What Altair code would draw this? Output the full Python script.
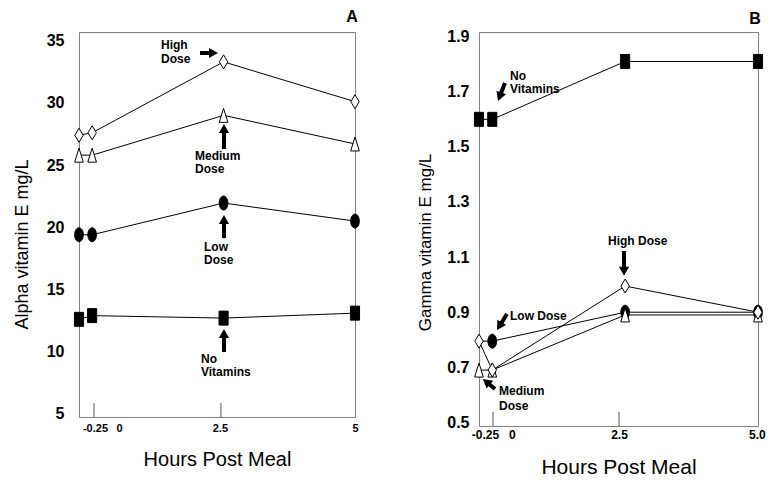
import math
import altair as alt
import pandas as pd

# ---------------- data ----------------
times = [-0.25, 0, 2.5, 5]
series_names = ["No Vitamins", "Low Dose", "Medium Dose", "High Dose"]

alpha_no_vitamins = [12.6, 12.9, 12.7, 13.1]
alpha_low_dose = [19.4, 19.4, 21.95, 20.5]
alpha_medium_dose = [25.8, 25.8, 29.0, 26.7]
alpha_high_dose = [27.4, 27.6, 33.3, 30.1]

gamma_no_vitamins = [1.6, 1.6, 1.81, 1.81]
gamma_low_dose = [0.795, 0.795, 0.9, 0.9]
gamma_medium_dose = [0.69, 0.69, 0.89, 0.89]
gamma_high_dose = [0.795, 0.69, 0.995, 0.9]
# marker hidden under the high-dose marker in the original figure
gamma_hidden = [("Low Dose", -0.25)]

alpha_ticks = [5, 10, 15, 20, 25, 30, 35]
gamma_ticks = [0.5, 0.7, 0.9, 1.1, 1.3, 1.5, 1.7, 1.9]

alpha_x_labels = ["-0.25", "0", "2.5", "5"]
alpha_x_label_pos = [0.054, 0.51, 2.43, 5.0]
gamma_x_labels = ["-0.25", "0", "2.5", "5.0"]
gamma_x_label_pos = [-0.137, 0.37, 2.385, 4.98]
alpha_inner_ticks = [0.035, 2.45]
gamma_inner_ticks = [0.013, 2.385]

# annotation text lines: (text, x, y)
alpha_notes = [("High", 1.31, 34.65), ("Dose", 1.31, 33.56),
               ("Medium", 1.957, 25.73), ("Dose", 1.957, 24.69),
               ("Low", 2.128, 18.42), ("Dose", 2.128, 17.37),
               ("No", 2.07, 9.41), ("Vitamins", 2.07, 8.37)]
# arrows: (tail x, tail y, tip x, tip y)
alpha_arrows = [(2.052, 34.01, 2.394, 34.01), (2.508, 26.29, 2.508, 28.30),
                (2.508, 19.13, 2.508, 20.98), (2.508, 9.98, 2.508, 11.82)]
gamma_notes = [("No", 0.333, 1.758), ("Vitamins", 0.333, 1.711),
               ("High Dose", 2.178, 1.159), ("Low Dose", 0.333, 0.886),
               ("Medium", 0.126, 0.614), ("Dose", 0.126, 0.560)]
gamma_arrows = [(0.239, 1.732, 0.1075, 1.667), (2.479, 1.122, 2.479, 1.032),
                (0.277, 0.894, 0.089, 0.835), (0.051, 0.621, -0.175, 0.658)]

FONT = "Liberation Sans"
SHAPES = ["M-0.65,-1L0.65,-1L0.65,1L-0.65,1Z",
          "M0,-1A0.62,1,0,1,1,0,1A0.62,1,0,1,1,0,-1Z",
          "M0,-1L0.62,1L-0.62,1Z",
          "M0,-1L0.6,0L0,1L-0.6,0Z"]
FILLS = ["black", "black", "white", "white"]
HEAD = "M0,0L0.85,1.5L-0.85,1.5Z"
XDOM = [-0.25, 5]


def build_panel(values, hidden, ydomain, yticks, yfmt, ytitle, width, height,
                xlabels, xlabel_pos, inner_ticks, notes, arrows, letter, letter_y, st):
    rows = []
    for name, vals in zip(series_names, values):
        for t, v in zip(times, vals):
            rows.append({"series": name, "time": t, "value": v,
                         "hidden": (name, t) in hidden})
    df = pd.DataFrame(rows)

    xscale = alt.Scale(domain=XDOM, nice=False, zero=False)
    yscale = alt.Scale(domain=ydomain, nice=False, zero=False)
    label_expr = " : ".join(f"datum.value == {p} ? '{l}'" for p, l in zip(xlabel_pos, xlabels)) + " : ''"
    xaxis = alt.Axis(values=xlabel_pos, labelExpr=label_expr, title="Hours Post Meal",
                     ticks=False, domain=False, grid=False, labelFlush=False, labelOverlap=False,
                     labelFontSize=st["xl"], labelFontWeight="bold", labelPadding=st["xlp"],
                     labelColor="black", titleColor="black", titleFontSize=st["xt"],
                     titleFontWeight="normal", titlePadding=st["xtp"])
    yaxis = alt.Axis(values=yticks, format=yfmt, title=ytitle, ticks=False, domain=False,
                     grid=False, labelOverlap=False, labelFontSize=st["yl"],
                     labelFontWeight="bold", labelPadding=st["ylp"], labelColor="black",
                     titleColor="black", titleFontSize=st["yt"], titleFontWeight="normal",
                     titlePadding=st["ytp"], titleY=st["tyy"])
    x = alt.X("time:Q", scale=xscale, axis=xaxis)
    y = alt.Y("value:Q", scale=yscale, axis=yaxis)

    lines = alt.Chart(df).mark_line(color="black", strokeWidth=1).encode(
        x=x, y=y, detail="series:N")
    points = alt.Chart(df).transform_filter("!datum.hidden").mark_point(
        filled=True, stroke="black", strokeWidth=1, size=196, opacity=1).encode(
        x=x, y=y,
        shape=alt.Shape("series:N", scale=alt.Scale(domain=series_names, range=SHAPES), legend=None),
        fill=alt.Fill("series:N", scale=alt.Scale(domain=series_names, range=FILLS), legend=None))

    notes_df = pd.DataFrame(notes, columns=["text", "time", "value"])
    note_layer = alt.Chart(notes_df).mark_text(
        align="left", baseline="middle", font=FONT, fontSize=12, fontWeight="bold",
        color="black").encode(x=x, y=y, text="text:N")

    sx = width / (XDOM[1] - XDOM[0])
    sy = height / (ydomain[1] - ydomain[0])
    shaft_rows, head_rows = [], []
    for tx, ty, hx, hy in arrows:
        dxp = (hx - tx) * sx
        dyp = -(hy - ty) * sy
        length = math.hypot(dxp, dyp)
        ang = math.degrees(math.atan2(dxp, -dyp)) % 360
        ex = hx - (dxp / length * 6) / sx
        ey = hy + (dyp / length * 6) / sy
        shaft_rows.append({"time": tx, "value": ty, "time2": ex, "value2": ey})
        head_rows.append({"time": hx, "value": hy, "angle": ang})
    shafts = alt.Chart(pd.DataFrame(shaft_rows)).mark_rule(color="black", strokeWidth=4).encode(
        x=x, y=y, x2="time2:Q", y2="value2:Q")
    heads = alt.Chart(pd.DataFrame(head_rows)).mark_point(
        shape=HEAD, filled=True, color="black", size=144, opacity=1).encode(
        x=x, y=y, angle=alt.Angle("angle:Q", scale=None))

    tdf = pd.DataFrame({"time": inner_ticks})
    ticks = alt.Chart(tdf).mark_rule(color="#555555", strokeWidth=1).encode(
        x=x, y=alt.value(height - 14), y2=alt.value(height))

    letter_layer = alt.Chart(pd.DataFrame({"a": [0]})).mark_text(
        font=FONT, fontSize=16, fontWeight="bold", align="center", baseline="middle",
        color="black").encode(x=alt.value(width - 3), y=alt.value(letter_y),
                              text=alt.value(letter))

    return alt.layer(lines, ticks, points, note_layer, shafts, heads, letter_layer).properties(
        width=width, height=height)


panel_a = build_panel(
    [alpha_no_vitamins, alpha_low_dose, alpha_medium_dose, alpha_high_dose], [],
    [4.75, 35.7], alpha_ticks, "d", "Alpha vitamin E mg/L", 276, 385,
    alpha_x_labels, alpha_x_label_pos, alpha_inner_ticks, alpha_notes, alpha_arrows,
    "A", -15,
    {"xl": 11, "xlp": 5, "xt": 20, "xtp": 16, "yl": 16, "ylp": 15, "yt": 18, "ytp": 15,
     "tyy": 212})

panel_b = build_panel(
    [gamma_no_vitamins, gamma_low_dose, gamma_medium_dose, gamma_high_dose], gamma_hidden,
    [0.487, 1.917], gamma_ticks, ".1f", "Gamma vitamin E mg/L", 279, 394,
    gamma_x_labels, gamma_x_label_pos, gamma_inner_ticks, gamma_notes, gamma_arrows,
    "B", -13,
    {"xl": 12, "xlp": 3, "xt": 21, "xtp": 16, "yl": 16, "ylp": 10, "yt": 17, "ytp": 12,
     "tyy": 210})

chart = alt.hconcat(panel_a, panel_b, spacing=53).properties(
    padding={"left": 4, "top": 0, "right": 0, "bottom": 0}
).configure_view(stroke="#808080", strokeWidth=1).configure_axis(
    labelFont=FONT, titleFont=FONT)

chart.save("out.html", embed_options={"renderer": "svg", "actions": False})
